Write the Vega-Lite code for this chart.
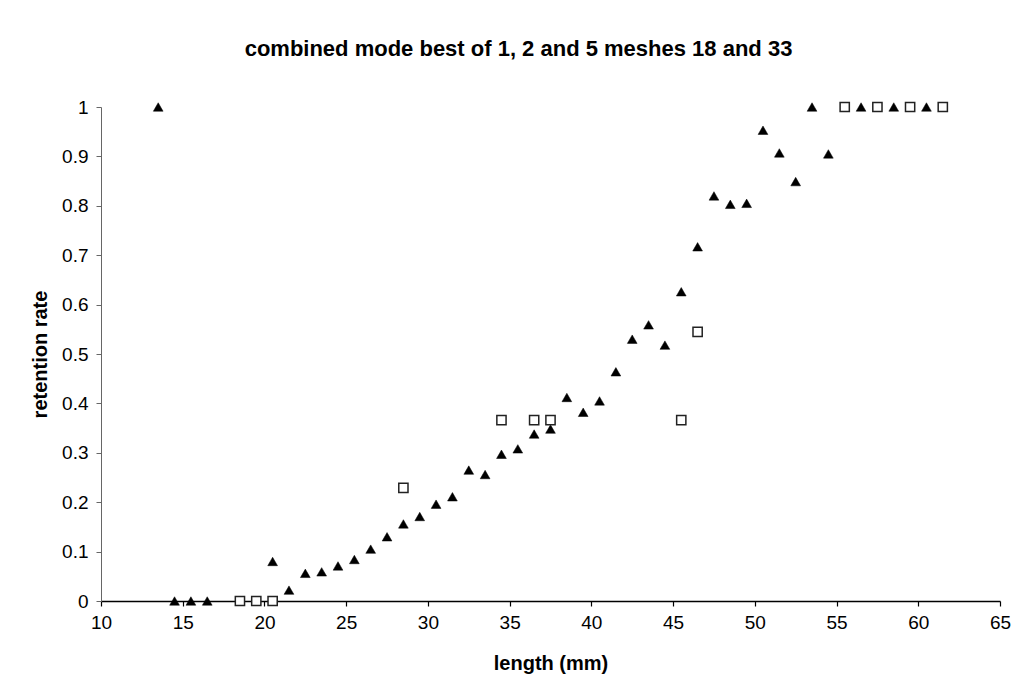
{
  "$schema": "https://vega.github.io/schema/vega-lite/v6.json",
  "autosize": "none",
  "width": 899,
  "height": 494,
  "padding": {"left": 101, "top": 107, "right": 16, "bottom": 88},
  "background": "white",
  "config": {
    "view": {"stroke": null},
    "font": "Liberation Sans",
    "axis": {"grid": false, "labelFont": "Liberation Sans", "titleFont": "Liberation Sans", "labelColor": "black", "titleColor": "black"}
  },
  "title": {
    "text": "combined mode best of 1, 2 and 5 meshes 18 and 33",
    "font": "Liberation Sans",
    "fontSize": 22,
    "fontWeight": "bold",
    "color": "black",
    "anchor": "middle",
    "dx": -32,
    "offset": 37
  },
  "data": {
    "values": [
      {"length": 13.5, "rate": 1.0, "series": "triangles"},
      {"length": 14.5, "rate": 0.0, "series": "triangles"},
      {"length": 15.5, "rate": 0.0, "series": "triangles"},
      {"length": 16.5, "rate": 0.0, "series": "triangles"},
      {"length": 20.5, "rate": 0.08, "series": "triangles"},
      {"length": 21.5, "rate": 0.022, "series": "triangles"},
      {"length": 22.5, "rate": 0.056, "series": "triangles"},
      {"length": 23.5, "rate": 0.059, "series": "triangles"},
      {"length": 24.5, "rate": 0.071, "series": "triangles"},
      {"length": 25.5, "rate": 0.084, "series": "triangles"},
      {"length": 26.5, "rate": 0.105, "series": "triangles"},
      {"length": 27.5, "rate": 0.13, "series": "triangles"},
      {"length": 28.5, "rate": 0.156, "series": "triangles"},
      {"length": 29.5, "rate": 0.171, "series": "triangles"},
      {"length": 30.5, "rate": 0.196, "series": "triangles"},
      {"length": 31.5, "rate": 0.211, "series": "triangles"},
      {"length": 32.5, "rate": 0.265, "series": "triangles"},
      {"length": 33.5, "rate": 0.256, "series": "triangles"},
      {"length": 34.5, "rate": 0.297, "series": "triangles"},
      {"length": 35.5, "rate": 0.308, "series": "triangles"},
      {"length": 36.5, "rate": 0.338, "series": "triangles"},
      {"length": 37.5, "rate": 0.348, "series": "triangles"},
      {"length": 38.5, "rate": 0.412, "series": "triangles"},
      {"length": 39.5, "rate": 0.382, "series": "triangles"},
      {"length": 40.5, "rate": 0.405, "series": "triangles"},
      {"length": 41.5, "rate": 0.464, "series": "triangles"},
      {"length": 42.5, "rate": 0.53, "series": "triangles"},
      {"length": 43.5, "rate": 0.559, "series": "triangles"},
      {"length": 44.5, "rate": 0.518, "series": "triangles"},
      {"length": 45.5, "rate": 0.626, "series": "triangles"},
      {"length": 46.5, "rate": 0.717, "series": "triangles"},
      {"length": 47.5, "rate": 0.82, "series": "triangles"},
      {"length": 48.5, "rate": 0.803, "series": "triangles"},
      {"length": 49.5, "rate": 0.805, "series": "triangles"},
      {"length": 50.5, "rate": 0.953, "series": "triangles"},
      {"length": 51.5, "rate": 0.907, "series": "triangles"},
      {"length": 52.5, "rate": 0.849, "series": "triangles"},
      {"length": 53.5, "rate": 1.0, "series": "triangles"},
      {"length": 54.5, "rate": 0.905, "series": "triangles"},
      {"length": 56.5, "rate": 1.0, "series": "triangles"},
      {"length": 58.5, "rate": 1.0, "series": "triangles"},
      {"length": 60.5, "rate": 1.0, "series": "triangles"},
      {"length": 18.5, "rate": 0.0, "series": "squares"},
      {"length": 19.5, "rate": 0.0, "series": "squares"},
      {"length": 20.5, "rate": 0.0, "series": "squares"},
      {"length": 28.5, "rate": 0.229, "series": "squares"},
      {"length": 34.5, "rate": 0.366, "series": "squares"},
      {"length": 36.5, "rate": 0.366, "series": "squares"},
      {"length": 37.5, "rate": 0.366, "series": "squares"},
      {"length": 45.5, "rate": 0.366, "series": "squares"},
      {"length": 46.5, "rate": 0.545, "series": "squares"},
      {"length": 55.5, "rate": 1.0, "series": "squares"},
      {"length": 57.5, "rate": 1.0, "series": "squares"},
      {"length": 59.5, "rate": 1.0, "series": "squares"},
      {"length": 61.5, "rate": 1.0, "series": "squares"}
    ]
  },
  "encoding": {
    "x": {
      "field": "length",
      "type": "quantitative",
      "scale": {"domain": [10, 65], "nice": false, "zero": false},
      "axis": {
        "title": "length (mm)",
        "titleFontSize": 20,
        "titleFontWeight": "bold",
        "titlePadding": 21,
        "values": [10, 15, 20, 25, 30, 35, 40, 45, 50, 55, 60, 65],
        "labelFontSize": 19,
        "labelPadding": 7,
        "tickSize": 5,
        "tickColor": "black",
        "domainColor": "black",
        "domainWidth": 1.5,
        "tickWidth": 1.2,
        "labelFlush": false,
        "labelOverlap": false
      }
    },
    "y": {
      "field": "rate",
      "type": "quantitative",
      "scale": {"domain": [0, 1], "nice": false},
      "axis": {
        "title": "retention rate",
        "titleFontSize": 20,
        "titleFontWeight": "bold",
        "titlePadding": 11,
        "values": [0, 0.1, 0.2, 0.3, 0.4, 0.5, 0.6, 0.7, 0.8, 0.9, 1],
        "format": "~g",
        "labelFontSize": 19,
        "labelPadding": 8,
        "tickSize": 5,
        "tickColor": "#666666",
        "domainColor": "#666666",
        "domainWidth": 1,
        "labelFlush": false,
        "labelOverlap": false
      }
    }
  },
  "layer": [
    {
      "transform": [{"filter": "datum.series === 'triangles'"}],
      "mark": {"type": "point", "shape": "triangle-up", "filled": true, "fill": "black", "stroke": "black", "strokeWidth": 0.5, "size": 95, "opacity": 1}
    },
    {
      "transform": [{"filter": "datum.series === 'squares'"}],
      "mark": {"type": "point", "shape": "square", "filled": true, "fill": "white", "stroke": "#222222", "strokeWidth": 1.5, "size": 85, "opacity": 1}
    }
  ]
}
